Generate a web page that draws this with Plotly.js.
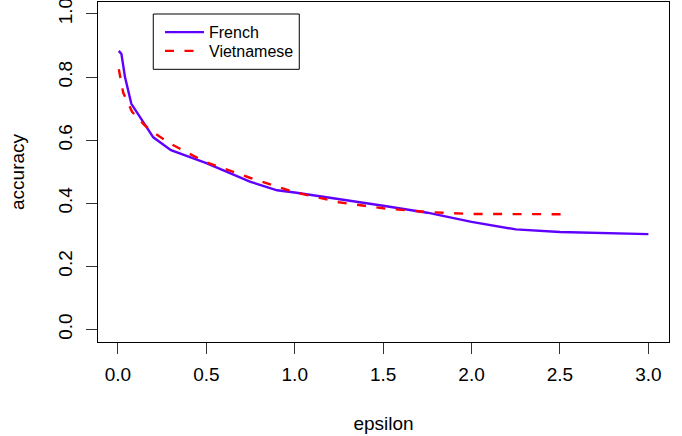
<!DOCTYPE html>
<html>
<head>
<meta charset="utf-8">
<script src="https://cdn.plot.ly/plotly-3.0.1.min.js"></script>
<style>html,body{margin:0;padding:0;background:#fff;}#chart{width:682px;height:436px;}</style>
</head>
<body>
<div id="chart"></div>
<script>
// French series
var frenchEpsilon = [0.005, 0.02, 0.04, 0.076, 0.2, 0.3, 0.5, 0.75, 0.9, 1.0, 1.5, 1.75, 2.0, 2.25, 2.5, 3.0];
var frenchAccuracy = [0.883, 0.873, 0.80, 0.715, 0.609, 0.568, 0.527, 0.468, 0.441, 0.434, 0.392, 0.370, 0.341, 0.317, 0.309, 0.302];
// Vietnamese series
var vietEpsilon = [0.005, 0.03, 0.08, 0.15, 0.2, 0.3, 0.4, 0.5, 0.75, 1.0, 1.25, 1.5, 1.75, 2.0, 2.56];
var vietAccuracy = [0.825, 0.75, 0.69, 0.648, 0.625, 0.588, 0.558, 0.53, 0.48, 0.435, 0.403, 0.384, 0.372, 0.366, 0.365];
var seriesNames = ["French", "Vietnamese"];
var xTicks = [0, 0.5, 1, 1.5, 2, 2.5, 3];
var xTickText = ["0.0", "0.5", "1.0", "1.5", "2.0", "2.5", "3.0"];
var yTicks = [0, 0.2, 0.4, 0.6, 0.8, 1.0];
var yTickText = ["0.0", "0.2", "0.4", "0.6", "0.8", "1.0"];

var FONT = "Liberation Sans, Arial, Helvetica, sans-serif";
var traces = [
  {x: frenchEpsilon, y: frenchAccuracy, name: seriesNames[0], type: "scatter", mode: "lines",
   legend: "legend", line: {color: "#6000ff", width: 2.4}},
  {x: vietEpsilon, y: vietAccuracy, name: seriesNames[1], type: "scatter", mode: "lines",
   legend: "legend2", line: {color: "#ff0000", width: 2.4, dash: "9px,10.5px"}}
];
var axisCommon = {
  showgrid: false, zeroline: false, showline: true, mirror: true,
  linecolor: "#000", linewidth: 1, ticks: "outside", ticklen: 11, tickwidth: 1,
  tickcolor: "#333", tickfont: {family: FONT, size: 19, color: "#000"},
  ticklabeloverflow: "allow"
};
var legendCommon = {
  xanchor: "left", yanchor: "middle", borderwidth: 0, bgcolor: "rgba(0,0,0,0)",
  itemwidth: 39, font: {family: FONT, size: 16, color: "#000"}
};
var layout = {
  width: 682, height: 436,
  margin: {l: 98, r: 13, t: 2, b: 94},
  paper_bgcolor: "#fff", plot_bgcolor: "#fff",
  font: {family: FONT, size: 19, color: "#000"},
  showlegend: true,
  legend: Object.assign({}, legendCommon, {x: 0.1086, y: 0.911}),
  legend2: Object.assign({}, legendCommon, {x: 0.1086, y: 0.856}),
  shapes: [{type: "rect", xref: "paper", yref: "paper",
    x0: 0.0968, x1: 0.3525, y0: 0.802, y1: 0.9647,
    line: {color: "#000", width: 1}, fillcolor: "rgba(0,0,0,0)", layer: "above"}],
  xaxis: Object.assign({}, axisCommon, {
    range: [-0.1126, 3.1165], tickvals: xTicks, ticktext: xTickText,
    ticklabelstandoff: 4,
    title: {text: "epsilon", font: {family: FONT, size: 19}, standoff: 32}
  }),
  yaxis: Object.assign({}, axisCommon, {
    range: [-0.04, 1.038], tickvals: yTicks, ticktext: yTickText, tickangle: -90,
    ticklabelstandoff: 6,
    title: {text: "accuracy", font: {family: FONT, size: 19}, standoff: 25}
  })
};
Plotly.newPlot("chart", traces, layout, {staticPlot: true, displayModeBar: false});
</script>
</body>
</html>
